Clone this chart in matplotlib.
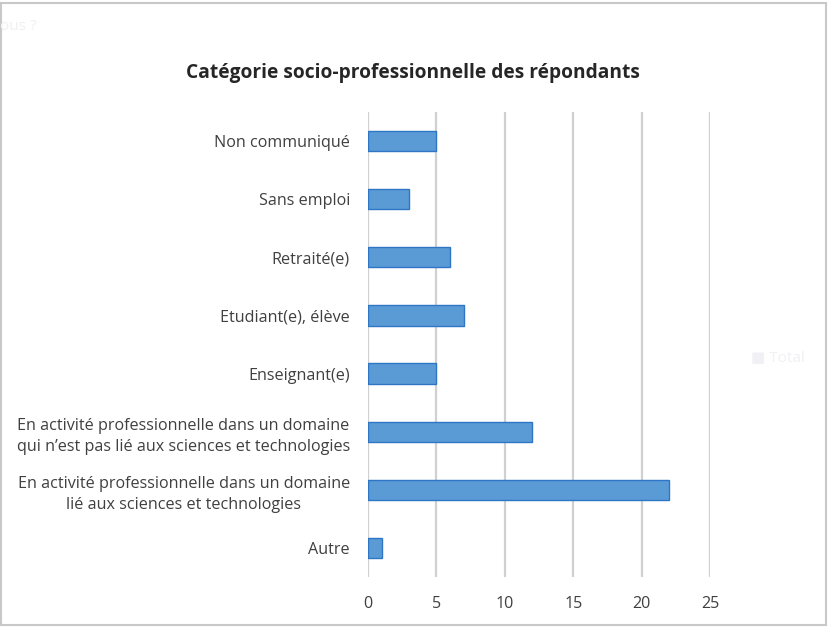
import matplotlib
matplotlib.use("Agg")
import matplotlib.pyplot as plt
from matplotlib.patches import Rectangle

# data (bottom to top)
categories = [
    "Autre",
    "En activité professionnelle dans un domaine\nlié aux sciences et technologies",
    "En activité professionnelle dans un domaine\nqui n’est pas lié aux sciences et technologies",
    "Enseignant(e)",
    "Etudiant(e), élève",
    "Retraité(e)",
    "Sans emploi",
    "Non communiqué",
]
values = [1, 22, 12, 5, 7, 6, 3, 5]
xticks = [0, 5, 10, 15, 20, 25]

plt.rcParams["font.family"] = ["Open Sans", "DejaVu Sans"]
text_col = "#404040"

fig = plt.figure(figsize=(8.3, 6.27), dpi=100)
ax = fig.add_axes([0.4434, 0.0797, 0.4120, 0.7417])

ax.barh(range(len(categories)), values, height=0.35, color="#5B9BD5",
        edgecolor="#2E75C6", linewidth=1.0, zorder=3)

ax.set_xlim(0, 25)
ax.set_ylim(-0.5, len(categories) - 0.5)
ax.set_xticks(xticks)
ax.set_yticks(range(len(categories)))
ax.set_yticklabels(categories, fontsize=11.6, color=text_col, linespacing=1.4)
ax.tick_params(axis="x", labelsize=11.6, colors=text_col, length=0, pad=14)
ax.tick_params(axis="y", length=0, pad=13)
for lab in ax.get_yticklabels():
    lab.set_multialignment("center")
ax.grid(axis="x", color="#D0D0D0", linewidth=1.6, zorder=0)
for s in ax.spines.values():
    s.set_visible(False)

fig.text(0.4976, 0.883, "Catégorie socio-professionnelle des répondants",
         ha="center", va="center", fontsize=13.8, fontweight="bold", color="#262626")

# faint leftovers visible in the screenshot
fig.text(0.0, 0.957, "ous ?", ha="left", va="center", fontsize=11, color="#F0F0F0")
fig.text(0.905, 0.429, "■ Total", ha="left", va="center", fontsize=11, color="#F0F0F5")

# thin frame around the picture
fig.patches.append(Rectangle((0.001, 0.003), 0.994, 0.993, transform=fig.transFigure,
                             fill=False, edgecolor="#C8C8C8", linewidth=1.5))

fig.savefig("out.png", dpi=100)
